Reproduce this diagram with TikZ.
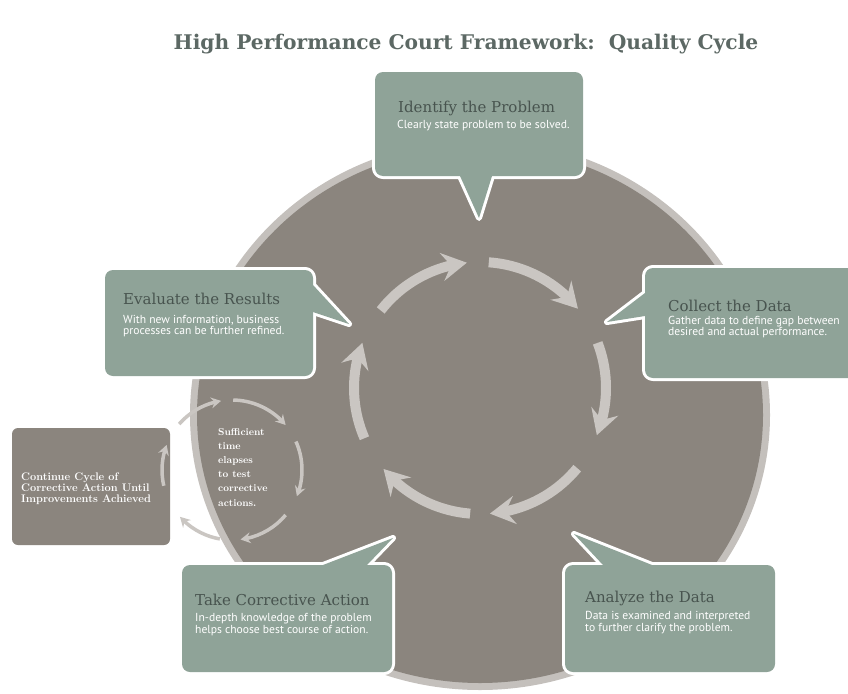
\documentclass[tikz,border=0pt]{standalone}
\usepackage{fontspec}
\newfontfamily\slab{DejaVu Serif}
\newfontfamily\descf{PT Sans}
\usetikzlibrary{arrows.meta,bending}
\definecolor{circ}{RGB}{139,133,126}
\definecolor{rim}{RGB}{196,192,188}
\definecolor{sage}{RGB}{143,163,152}
\definecolor{arr}{RGB}{202,198,194}
\definecolor{ttl}{RGB}{92,104,100}
\definecolor{btl}{RGB}{72,84,79}
\begin{document}
\begin{tikzpicture}[x=1pt,y=-1pt,
  bigarrow/.style={draw=arr, line width=10pt, -{Stealth[length=25pt,width=28pt,inset=9pt]}},
  smallarrow/.style={draw=arr, line width=3.5pt, -{Stealth[length=10pt,width=11pt,inset=3.5pt]}},
  boxedge/.style={draw=white, fill=white, line width=6pt, line join=round},
  btitle/.style={anchor=base west, inner sep=0pt, text=btl, font=\slab\fontsize{15}{17}\selectfont},
  bdesc/.style={anchor=base west, inner sep=0pt, text=white, font=\descf\fontsize{11.6}{12}\selectfont},
  wtext/.style={anchor=base west, inner sep=0pt, text=white, font=\bfseries\fontsize{10}{12}\selectfont},
  ctext/.style={anchor=base west, inner sep=0pt, text=white, font=\bfseries\fontsize{11}{12}\selectfont},
]
\useasboundingbox[fill=white] (0,0) rectangle (848,693);

% big circle
\fill[rim] (480,415) ellipse [x radius=290pt, y radius=275pt];
\fill[circ] (480,415) ellipse [x radius=283pt, y radius=268pt];

% big ring of arrows
\foreach \a/\b in {142/96, 86/39, 21/-22, -39.5/-85.5, -94.5/-140, 203.5/159}{
  \draw[bigarrow] ({480+126*cos(\a)},{388-126*sin(\a)}) arc[start angle=\a, end angle=\b, radius=126pt];
}

% continue box
\fill[circ, rounded corners=6pt] (12,428) rectangle (170,545);
\node[ctext] (c1) at (21,480) {Continue Cycle of};
\node[ctext] (c2) at (21,491) {Corrective Action Until};
\node[ctext] (c3) at (21,502) {Improvements Achieved};

% small ring of arrows
\foreach \a/\b in {139/99, 89/40, 24/-22, -40/-83, -100/-138, 193/159}{
  \draw[smallarrow] ({232+70*cos(\a)},{470-70*sin(\a)}) arc[start angle=\a, end angle=\b, radius=70pt];
}
\node[wtext] (s1) at (218,435) {Sufficient};
\node[wtext] (s2) at (218,449.2) {time};
\node[wtext] (s3) at (218,463.4) {elapses};
\node[wtext] (s4) at (218,477.6) {to test};
\node[wtext] (s5) at (218,491.8) {corrective};
\node[wtext] (s6) at (218,506) {actions.};

% callout boxes: white edge pass
\path[boxedge, rounded corners=8pt] (375,72) rectangle (583,176);
\path[boxedge] (460,176) -- (479,218) -- (492,176) -- cycle;
\path[boxedge, rounded corners=8pt] (645,268) rectangle (856,378);
\path[boxedge] (645,293) -- (607,322) -- (645,316) -- cycle;
\path[boxedge, rounded corners=8pt] (105,270) rectangle (313,376);
\path[boxedge] (313,285) -- (349,324) -- (313,312) -- cycle;
\path[boxedge, rounded corners=8pt] (182,565) rectangle (392,672);
\path[boxedge] (323,565) -- (393,538) -- (367,565) -- cycle;
\path[boxedge, rounded corners=8pt] (565,565) rectangle (775,672);
\path[boxedge] (603,565) -- (574,534) -- (652,565) -- cycle;
% fill pass
\fill[sage, rounded corners=8pt] (375,72) rectangle (583,176);
\fill[sage] (460,176) -- (479,218) -- (492,176) -- cycle;
\fill[sage, rounded corners=8pt] (645,268) rectangle (856,378);
\fill[sage] (645,293) -- (607,322) -- (645,316) -- cycle;
\fill[sage, rounded corners=8pt] (105,270) rectangle (313,376);
\fill[sage] (313,285) -- (349,324) -- (313,312) -- cycle;
\fill[sage, rounded corners=8pt] (182,565) rectangle (392,672);
\fill[sage] (323,565) -- (393,538) -- (367,565) -- cycle;
\fill[sage, rounded corners=8pt] (565,565) rectangle (775,672);
\fill[sage] (603,565) -- (574,534) -- (652,565) -- cycle;

% texts
\node[btitle] (t1) at (398,112) {Identify the Problem};
\node[bdesc] (d1) at (397,128) {Clearly state problem to be solved.};

\node[btitle] (t2) at (668,311) {Collect the Data};
\node[bdesc] (d2a) at (668,324) {Gather data to define gap between};
\node[bdesc] (d2b) at (668,335.5) {desired and actual performance.};

\node[btitle] (t3) at (123,304) {Evaluate the Results};
\node[bdesc] (d3a) at (123,323) {With new information, business};
\node[bdesc] (d3b) at (123,334.5) {processes can be further refined.};

\node[btitle] (t4) at (195,605) {Take Corrective Action};
\node[bdesc] (d4a) at (195,621) {In-depth knowledge of the problem};
\node[bdesc] (d4b) at (195,633) {helps choose best course of action.};

\node[btitle] (t5) at (585,602) {Analyze the Data};
\node[bdesc] (d5a) at (585,619) {Data is examined and interpreted};
\node[bdesc] (d5b) at (585,631) {to further clarify the problem.};

% title
\node[anchor=base, inner sep=0pt, text=ttl, font=\slab\bfseries\fontsize{20.2}{22}\selectfont] (title) at (466,50) {High Performance Court Framework:\ \ Quality Cycle};
\end{tikzpicture}
\end{document}
